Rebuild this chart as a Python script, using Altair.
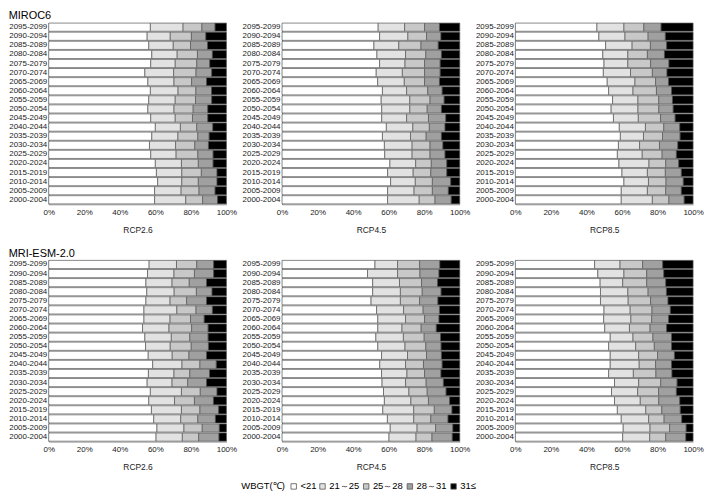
import altair as alt
import pandas as pd

# periods, top to bottom as drawn
periods = ["2095-2099", "2090-2094", "2085-2089", "2080-2084", "2075-2079",
           "2070-2074", "2065-2069", "2060-2064", "2055-2059", "2050-2054",
           "2045-2049", "2040-2044", "2035-2039", "2030-2034", "2025-2029",
           "2020-2024", "2015-2019", "2010-2014", "2005-2009", "2000-2004"]
categories = ["<21", "21～25", "25～28", "28～31", "31≤"]
colors = ["#ffffff", "#e2e2e2", "#c8c8c8", "#a0a0a0", "#000000"]
models = ["MIROC6", "MRI-ESM-2.0"]
scenarios = ["RCP2.6", "RCP4.5", "RCP8.5"]

# cumulative right edges (%) of the first four classes, rows top to bottom
miroc6_rcp26 = [
    [57.2, 75.6, 86.2, 93.6], [55.4, 68.4, 80.3, 88.4], [56.3, 70.1, 79.8, 89.4],
    [58.0, 72.3, 83.7, 92.1], [57.4, 71.2, 83.3, 90.6], [54.1, 70.3, 82.9, 91.7],
    [55.8, 70.5, 80.4, 88.8], [57.2, 72.8, 82.8, 91.6], [56.3, 71.2, 82.6, 91.7],
    [55.8, 70.5, 81.3, 89.5], [57.4, 71.2, 80.9, 89.5], [60.0, 74.1, 83.3, 92.3],
    [58.0, 72.7, 83.9, 90.3], [56.7, 71.4, 82.2, 89.9], [57.4, 71.7, 83.9, 92.5],
    [60.0, 74.7, 84.2, 92.5], [60.6, 74.9, 85.9, 94.7], [61.3, 74.9, 84.2, 94.7],
    [59.6, 74.5, 84.6, 93.6], [59.6, 77.1, 86.6, 95.0]]
miroc6_rcp45 = [
    [54.1, 69.0, 80.2, 88.6], [54.9, 70.8, 81.3, 89.4], [51.7, 65.7, 78.2, 87.9],
    [53.4, 69.5, 80.9, 89.7], [54.9, 69.2, 80.2, 89.0], [53.0, 67.7, 80.2, 89.0],
    [53.8, 68.8, 80.2, 88.6], [56.5, 70.1, 82.0, 90.1], [55.8, 71.9, 83.3, 91.2],
    [56.1, 71.9, 81.7, 89.7], [56.1, 70.1, 82.4, 92.1], [58.7, 73.6, 82.9, 91.7],
    [56.5, 72.3, 81.1, 89.7], [57.6, 73.2, 83.3, 90.5], [57.8, 73.2, 83.3, 91.7],
    [60.7, 75.2, 84.0, 92.7], [59.4, 73.8, 83.7, 92.7], [61.1, 75.0, 84.6, 94.9],
    [59.4, 74.3, 84.6, 93.6], [59.4, 77.2, 86.1, 95.2]]
miroc6_rcp85 = [
    [45.9, 61.1, 72.3, 82.0], [47.0, 61.7, 74.7, 84.4], [50.8, 65.7, 76.0, 85.1],
    [49.2, 63.3, 74.3, 83.9], [49.9, 63.3, 76.1, 86.4], [49.5, 64.8, 77.1, 85.3],
    [51.7, 67.3, 78.9, 86.2], [52.5, 66.2, 79.4, 87.9], [54.7, 69.0, 80.7, 88.4],
    [53.9, 69.0, 80.7, 88.8], [55.2, 69.2, 81.7, 89.9], [58.5, 73.2, 83.5, 92.5],
    [59.1, 72.1, 82.8, 92.7], [58.0, 69.9, 81.1, 91.4], [57.4, 71.4, 82.6, 90.6],
    [58.3, 75.2, 84.6, 91.9], [60.0, 74.3, 84.4, 93.4], [61.1, 74.9, 84.8, 94.5],
    [59.6, 74.3, 84.6, 93.4], [59.6, 77.1, 86.4, 95.0]]
mri_rcp26 = [
    [56.5, 71.9, 83.3, 92.8], [55.6, 70.5, 82.0, 92.8], [54.7, 69.4, 79.1, 88.8],
    [55.2, 70.6, 83.1, 91.9], [54.7, 68.3, 77.6, 88.8], [53.6, 72.1, 82.9, 92.1],
    [53.6, 68.3, 79.8, 87.5], [52.8, 67.7, 80.4, 89.7], [54.1, 69.0, 79.4, 89.7],
    [54.5, 68.4, 80.2, 89.9], [56.0, 69.5, 78.9, 88.8], [58.5, 75.0, 85.1, 94.3],
    [56.1, 70.5, 79.4, 90.5], [55.4, 69.4, 78.2, 88.8], [57.2, 74.7, 85.3, 94.7],
    [56.3, 70.8, 82.0, 92.7], [57.8, 74.7, 85.1, 95.6], [59.1, 74.3, 83.9, 93.8],
    [60.9, 76.1, 86.4, 96.0], [60.4, 75.2, 84.4, 95.8]]
mri_rcp45 = [
    [52.3, 65.0, 77.4, 88.8], [48.1, 65.0, 77.6, 88.3], [51.0, 66.1, 78.5, 87.5],
    [51.0, 66.6, 78.9, 89.5], [50.1, 66.6, 77.4, 87.7], [53.2, 68.4, 79.4, 88.6],
    [53.9, 69.5, 80.2, 88.3], [53.9, 67.5, 78.3, 86.8], [52.8, 68.3, 80.0, 89.2],
    [53.9, 69.2, 80.9, 89.5], [56.0, 70.6, 81.3, 89.7], [55.0, 69.5, 79.6, 90.1],
    [56.0, 70.3, 80.2, 89.4], [56.3, 69.5, 81.1, 90.8], [57.1, 71.4, 81.7, 92.3],
    [57.6, 72.5, 82.4, 94.3], [56.7, 74.1, 85.7, 95.6], [59.3, 74.1, 83.7, 93.4],
    [60.9, 76.0, 86.4, 96.1], [60.2, 75.4, 84.4, 95.8]]
mri_rcp85 = [
    [44.6, 58.9, 71.6, 82.9], [46.4, 61.1, 73.9, 83.5], [47.7, 60.4, 73.9, 84.6],
    [47.9, 63.3, 74.7, 85.0], [47.9, 63.5, 76.1, 85.9], [49.9, 64.6, 76.9, 87.2],
    [49.7, 65.0, 76.7, 86.2], [50.3, 64.2, 75.8, 85.1], [53.4, 66.2, 77.4, 87.9],
    [52.5, 67.7, 78.2, 87.9], [53.4, 69.4, 80.0, 89.5], [53.4, 69.7, 78.9, 87.9],
    [52.5, 66.4, 79.1, 88.1], [55.8, 69.4, 81.8, 91.0], [54.1, 68.8, 80.6, 90.6],
    [55.8, 70.3, 80.7, 92.5], [57.4, 73.4, 82.4, 92.8], [59.6, 75.0, 83.7, 93.6],
    [60.7, 75.8, 86.8, 96.1], [60.4, 75.6, 84.6, 95.9]]

tables = {
    ("MIROC6", "RCP2.6"): miroc6_rcp26,
    ("MIROC6", "RCP4.5"): miroc6_rcp45,
    ("MIROC6", "RCP8.5"): miroc6_rcp85,
    ("MRI-ESM-2.0", "RCP2.6"): mri_rcp26,
    ("MRI-ESM-2.0", "RCP4.5"): mri_rcp45,
    ("MRI-ESM-2.0", "RCP8.5"): mri_rcp85,
}

rows = []
for (model, scen), table in tables.items():
    for period, cums in zip(periods, table):
        edges = [0.0] + cums + [100.0]
        for i, cat in enumerate(categories):
            rows.append(dict(model=model, scenario=scen, period=period, cls=cat,
                             order=i, start=edges[i] / 100, end=edges[i + 1] / 100))
df = pd.DataFrame(rows)

FONT = "Liberation Sans"


def panel(model, scen):
    return alt.Chart(df).transform_filter(
        (alt.datum.model == model) & (alt.datum.scenario == scen)
    ).mark_bar(stroke="#555555", strokeWidth=0.7).encode(
        y=alt.Y("period:N", sort=periods, title=None,
                scale=alt.Scale(paddingInner=0.1, paddingOuter=0.05),
                axis=alt.Axis(labelFont=FONT, labelFontSize=8, labelColor="#222",
                              ticks=False, labelPadding=2, domainColor="#777")),
        x=alt.X("start:Q", scale=alt.Scale(domain=[0, 1], nice=False),
                axis=alt.Axis(format="%", values=[0, 0.2, 0.4, 0.6, 0.8, 1.0],
                              labelFont=FONT, labelFontSize=8, labelColor="#222",
                              labelFlush=False, labelOverlap=False, ticks=False,
                              labelPadding=4, domainColor="#999", grid=False,
                              title=scen, titleFont=FONT, titleFontSize=8.5,
                              titleFontWeight="normal", titleColor="#222",
                              titlePadding=9)),
        x2="end:Q",
        order="order:Q",
        color=alt.Color("cls:N", scale=alt.Scale(domain=categories, range=colors),
                        legend=alt.Legend(title="WBGT(℃)", orient="none",
                                          legendX=194, legendY=462,
                                          direction="horizontal", titleOrient="left",
                                          symbolType="square", symbolSize=30,
                                          symbolStrokeColor="#555",
                                          symbolStrokeWidth=0.8,
                                          labelFont=FONT, labelFontSize=9.5,
                                          titleFont=FONT, titleFontSize=9.5,
                                          titleFontWeight="normal",
                                          columnPadding=1, labelOffset=2,
                                          titlePadding=4)),
    ).properties(width=179, height=183)


def row(model, offset):
    return alt.hconcat(*[panel(model, s) for s in scenarios], spacing=4,
                       title=alt.Title(model, anchor="start", font=FONT, fontSize=11,
                                       fontWeight="normal", color="#000",
                                       offset=offset))


chart = alt.vconcat(row(models[0], 2), row(models[1], 1), spacing=14).properties(
    padding={"left": 0, "top": 0, "right": 0, "bottom": 0}
).configure_view(stroke=None)

chart.save("out.html", embed_options={"renderer": "svg", "actions": False})
